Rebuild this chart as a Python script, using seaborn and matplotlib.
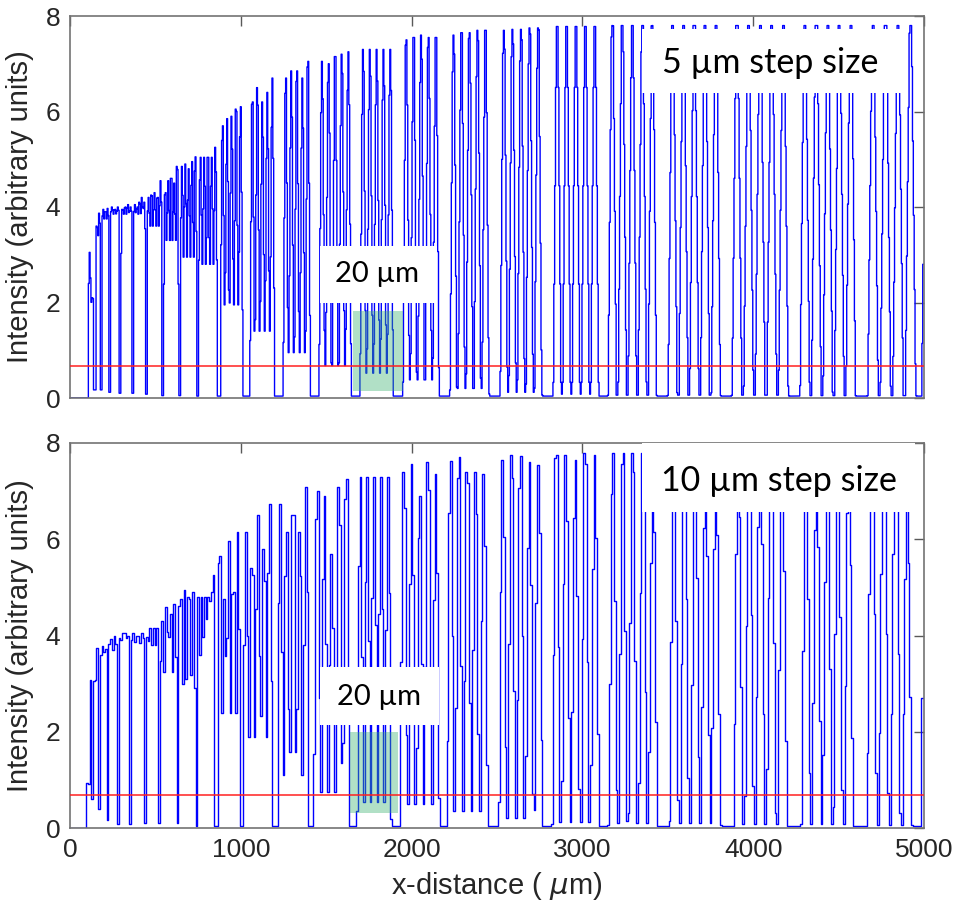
import numpy as np
import pandas as pd
import matplotlib
matplotlib.use("Agg")
import matplotlib.pyplot as plt
import seaborn as sns
from matplotlib.patches import Rectangle

# ---------------- data ----------------
# Top panel (5 µm step size): intervals where the trace drops between bar groups
top_gap_start = [0, 140, 178, 227, 289, 363, 441, 539, 636, 743, 862, 1012, 1199, 1409,
                 1649, 1895, 2164, 2456, 2766, 3100, 3439, 3813, 4211, 4605, 4958]
top_gap_end = [107, 150, 188, 237, 299, 373, 451, 549, 646, 753, 880, 1053, 1247, 1456,
               1696, 1947, 2222, 2515, 2825, 3146, 3497, 3871, 4269, 4665, 4988]
top_gap_level = [0, 0.17, 0.17, 0.12, 0.1, 0.1, 0.08, 0.05, 0.05, 0.04, 0.04, 0.04, 0.04, 0.04,
                 0.04, 0.04, 0.04, 0.04, 0.04, 0.04, 0.04, 0.04, 0.04, 0.04, 0.04]
# peak heights of the bars in each group (between consecutive gaps)
top_peaks = [
    [3.05, 2.1],
    [3.6, 3.87],
    [3.95, 3.9, 3.97],
    [4.0, 3.95, 4.0],
    [3.95, 4.0, 4.05, 4.0],
    [4.05, 4.0, 4.1, 4.2, 4.1],
    [4.2, 4.25, 4.3, 4.2, 4.55],
    [4.3, 4.55, 4.6, 4.5, 4.85],
    [4.85, 4.9, 4.8, 4.95, 5.05],
    [5.04, 5.04, 5.04, 5.04, 5.25],
    [5.7, 5.85, 5.9, 6.05, 6.1],
    [6.2, 6.5, 6.2, 6.4, 6.7],
    [6.7, 6.85, 6.85, 6.7, 7.05],
    [7.05, 7.0, 7.15, 7.2, 7.25],
    [7.3, 7.3, 7.3, 7.3, 7.3],
    [7.5, 7.55, 7.6, 7.55, 7.55],
    [7.6, 7.65, 7.65, 7.7, 7.7],
    [7.7, 7.72, 7.72, 7.75, 7.75],
    [7.78, 7.78, 7.78, 7.78, 7.78],
    [7.8, 7.8, 7.8, 7.8, 7.8],
    [7.8, 7.8, 7.8, 7.8, 7.8],
    [7.8, 7.8, 7.8, 7.8, 7.8],
    [7.8, 7.8, 7.8, 7.8, 7.8],
    [7.8, 7.8, 7.8, 7.8],
]
# minimum level between bars within each group
top_inner = [2.0, 3.4, 3.75, 3.85, 3.85, 3.85, 3.6, 3.3, 2.95, 2.8, 1.95, 1.4, 0.95,
             0.68, 0.52, 0.38, 0.2, 0.12, 0.08, 0.06, 0.06, 0.06, 0.05, 0.05]
top_tail = 2.8

# Bottom panel (10 µm step size)
bot_gap_start = [0, 128, 167, 215, 274, 346, 435, 517, 623, 732, 846, 995, 1185, 1400,
                 1637, 1881, 2164, 2446, 2768, 3099, 3440, 3811, 4200, 4590, 4935]
bot_gap_end = [97, 138, 177, 225, 284, 356, 445, 527, 633, 742, 862, 1013, 1210, 1425,
               1678, 1930, 2203, 2505, 2817, 3148, 3505, 3879, 4275, 4660, 4985]
bot_gap_level = [0, 0.6, 0.4, 0.17, 0.08, 0.08, 0.1, 0.1, 0.1, 0.05, 0.04, 0.04, 0.04, 0.04,
                 0.04, 0.04, 0.04, 0.04, 0.04, 0.04, 0.04, 0.04, 0.04, 0.04, 0.04]
bot_peaks = [
    [1.0, 3.07],
    [3.3, 3.75],
    [3.9, 3.92],
    [3.92, 4.0],
    [3.95, 4.05, 4.0],
    [4.05, 4.0, 4.05],
    [4.1, 4.2, 4.15, 4.2],
    [4.3, 4.6, 4.45, 4.65],
    [4.75, 4.95, 4.8, 4.9],
    [4.8, 4.8, 4.8, 4.8, 5.25],
    [5.66, 4.75, 5.97, 4.9, 6.15],
    [6.15, 5.4, 6.5, 5.8, 6.74],
    [6.74, 6.15, 6.5, 6.15, 7.08],
    [7.0, 6.9, 5.7, 7.08, 7.25],
    [7.3, 7.3, 7.3, 7.3, 7.3],
    [7.4, 7.57, 6.9, 7.6, 7.35],
    [7.62, 7.7, 7.4, 7.4, 7.35],
    [7.65, 7.76, 7.72, 7.6, 7.55],
    [7.76, 7.76, 7.65, 7.8, 7.75],
    [7.8, 7.8, 7.8, 7.8, 7.8],
    [7.8, 7.8, 7.8, 7.8, 7.8],
    [7.8, 7.8, 7.8, 7.8, 7.8],
    [7.8, 7.8, 7.8, 7.8, 7.8],
    [7.8, 7.8, 7.8, 6.6],
]
bot_inner = [0.9, 3.0, 3.5, 3.7, 3.75, 3.85, 3.8, 3.25, 2.9, 3.07, 2.4, 1.9, 1.1,
             0.75, 0.55, 0.5, 0.35, 0.2, 0.12, 0.1, 0.1, 0.08, 0.08, 0.06]
bot_tail = 2.7

threshold = 0.68
x_ticks = [0, 1000, 2000, 3000, 4000, 5000]
y_ticks = [0, 2, 4, 6, 8]


def build_trace(gs, ge, gl, peaks, inner, tail, step, top_hw):
    """Sample the scanned profile (bars between gaps) on the scan grid."""
    bx, by = [], []
    for i in range(len(gs)):
        bx += [gs[i], ge[i]]
        by += [gl[i], gl[i]]
        if i < len(peaks):
            a, b = ge[i], gs[i + 1]
            n = len(peaks[i])
            p = (b - a) / n
            for k, h in enumerate(peaks[i]):
                c = a + (k + 0.5) * p
                hw = max(top_hw * p, 0.5 * step) if p > 2 * step else top_hw * p
                bx += [c - 0.42 * p, c - hw, c + hw, c + 0.42 * p]
                by += [inner[i], h, h, inner[i]]
    bx += [ge[-1] + 5, 5010]
    by += [tail, tail]
    xs = np.arange(0, 5000 + step, step)
    ys = np.interp(xs, bx, by)
    return pd.DataFrame({"x": xs, "y": ys})


df_top = build_trace(top_gap_start, top_gap_end, top_gap_level, top_peaks, top_inner,
                     top_tail, 5, 0.08)
df_bot = build_trace(bot_gap_start, bot_gap_end, bot_gap_level, bot_peaks, bot_inner,
                     bot_tail, 10, 0.08)

# ---------------- style ----------------
sns.set_style("white")
plt.rcParams["font.family"] = ["Liberation Sans", "DejaVu Sans"]

fig = plt.figure(figsize=(9.56, 9.11), dpi=100)
ax_top = fig.add_axes([70 / 956, 1 - 398 / 911, 854 / 956, 382 / 911])
ax_bot = fig.add_axes([70 / 956, 1 - 828 / 911, 854 / 956, 385 / 911])

box_font = ["Lato", "DejaVu Sans"]

panels = [
    (ax_top, df_top, "5 µm step size", (3351, 4865, 6.38, 7.72), (4100, 7.02),
     (1462, 2146, 1.99, 3.19), (1800, 2.6), (1655, 1947, 0.15, 1.82)),
    (ax_bot, df_bot, "10 µm step size", (3351, 4945, 6.56, 8.05), (4150, 7.22),
     (1462, 2158, 2.14, 3.34), (1810, 2.72), (1637, 1918, 0.31, 1.99)),
]

for ax, df, label, bigbox, bigtxt, smallbox, smalltxt, green in panels:
    sns.lineplot(data=df, x="x", y="y", ax=ax, color="#0000ff", lw=1.0,
                 drawstyle="steps-mid", estimator=None, sort=False, zorder=2)
    ax.axhline(threshold, color="#ff2020", lw=1.1, zorder=4)
    ax.add_patch(Rectangle((green[0], green[2]), green[1] - green[0], green[3] - green[2],
                           facecolor="#3cb371", alpha=0.4, edgecolor="none", zorder=3))
    ax.add_patch(Rectangle((bigbox[0], bigbox[2]), bigbox[1] - bigbox[0], bigbox[3] - bigbox[2],
                           facecolor="white", edgecolor="none", zorder=5))
    ax.add_patch(Rectangle((smallbox[0], smallbox[2]), smallbox[1] - smallbox[0],
                           smallbox[3] - smallbox[2], facecolor="white", edgecolor="none", zorder=5))
    ax.text(bigtxt[0], bigtxt[1], label, ha="center", va="center", fontsize=24.5,
            family=box_font, color="black", zorder=6)
    ax.text(smalltxt[0], smalltxt[1], "20 µm", ha="center", va="center", fontsize=21,
            family=box_font, color="black", zorder=6)

    ax.set_xlim(0, 5000)
    ax.set_ylim(0, 8)
    ax.set_xticks(x_ticks)
    ax.set_yticks(y_ticks)
    ax.tick_params(direction="in", top=True, right=True, length=7, width=1,
                   color="0.35", labelcolor="0.15", labelsize=19, pad=7)
    for sp in ax.spines.values():
        sp.set_color("0.45")
        sp.set_linewidth(1.2)
        sp.set_visible(True)
    ax.set_ylabel("Intensity (arbitrary units)", fontsize=21, color="0.15", labelpad=8)

ax_top.set_xlabel("")
ax_top.set_xticklabels([])
ax_bot.set_xlabel(r"x-distance ( $\mu$m)", fontsize=21, color="0.15", labelpad=6)

fig.savefig("out.png", dpi=100, facecolor="white")
